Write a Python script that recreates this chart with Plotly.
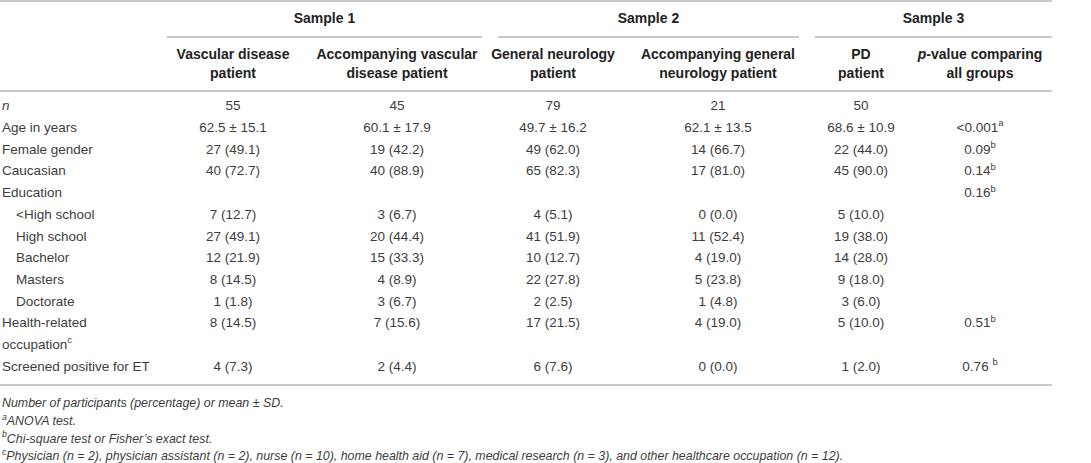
import plotly.graph_objects as go

# ---------------- data ----------------
samples = ["Sample 1", "Sample 2", "Sample 3"]
header_line1 = ["Vascular disease", "Accompanying vascular", "General neurology",
                "Accompanying general", "PD", "<i>p</i>-value comparing"]
header_line2 = ["patient", "disease patient", "patient", "neurology patient",
                "patient", "all groups"]

row_labels = ["<i>n</i>", "Age in years", "Female gender", "Caucasian", "Education",
              "&lt;High school", "High school", "Bachelor", "Masters", "Doctorate",
              "Health-related", "occupation<sup>c</sup>", "Screened positive for ET"]

vascular = ["55", "62.5 ± 15.1", "27 (49.1)", "40 (72.7)", "", "7 (12.7)", "27 (49.1)",
            "12 (21.9)", "8 (14.5)", "1 (1.8)", "8 (14.5)", "", "4 (7.3)"]
acc_vascular = ["45", "60.1 ± 17.9", "19 (42.2)", "40 (88.9)", "", "3 (6.7)", "20 (44.4)",
                "15 (33.3)", "4 (8.9)", "3 (6.7)", "7 (15.6)", "", "2 (4.4)"]
gen_neuro = ["79", "49.7 ± 16.2", "49 (62.0)", "65 (82.3)", "", "4 (5.1)", "41 (51.9)",
             "10 (12.7)", "22 (27.8)", "2 (2.5)", "17 (21.5)", "", "6 (7.6)"]
acc_gen_neuro = ["21", "62.1 ± 13.5", "14 (66.7)", "17 (81.0)", "", "0 (0.0)", "11 (52.4)",
                 "4 (19.0)", "5 (23.8)", "1 (4.8)", "4 (19.0)", "", "0 (0.0)"]
pd_patient = ["50", "68.6 ± 10.9", "22 (44.0)", "45 (90.0)", "", "5 (10.0)", "19 (38.0)",
              "14 (28.0)", "9 (18.0)", "3 (6.0)", "5 (10.0)", "", "1 (2.0)"]
p_values = ["", "&lt;0.001<sup>a</sup>", "0.09<sup>b</sup>", "0.14<sup>b</sup>",
            "0.16<sup>b</sup>", "", "", "", "", "", "0.51<sup>b</sup>", "",
            "0.76 <sup>b</sup>"]

footnotes = ["Number of participants (percentage) or mean ± SD.",
             "<sup>a</sup>ANOVA test.",
             "<sup>b</sup>Chi-square test or Fisher’s exact test.",
             "<sup>c</sup>Physician (n = 2), physician assistant (n = 2), nurse (n = 10), "
             "home health aid (n = 7), medical research (n = 3), and other healthcare occupation (n = 12)."]

# ---------------- layout / style ----------------
W, H = 1091, 463
FONT = "Liberation Sans"
TXT = "#3d3d3d"
HDR = "#222222"
RULE = "#b4b4b4"

col_x = [233, 397, 553, 718, 861, 980]
sample_spans = [(167, 482), (498, 799), (815, 1052)]
sample_x = [(a + b) / 2 for a, b in sample_spans]
indent = [0, 0, 0, 0, 0, 1, 1, 1, 1, 1, 0, 0, 0]
label_x0, indent_dx = 2, 14
row_y0, row_dy = 107, 21.7
row_y = [row_y0 + i * row_dy for i in range(len(row_labels))]
foot_y0, foot_dy = 404, 17.8
foot_y = [foot_y0 + i * foot_dy for i in range(len(footnotes))]
table_x0, table_x1 = 0, 1052
y_top, y_sample_rule, y_head1, y_head2, y_head_rule, y_bottom = 1, 37, 55, 74, 91, 385
y_sample = 19

body_size, head_size, foot_size = 13.5, 14, 12.4

fig = go.Figure()

def add_text(xs, ys, texts, pos, size, color):
    keep = [i for i, t in enumerate(texts) if t]
    fig.add_trace(go.Scatter(
        x=[xs[i] for i in keep], y=[ys[i] for i in keep],
        text=[texts[i] for i in keep], mode="text", textposition=pos,
        textfont=dict(family=FONT, size=size, color=color),
        hoverinfo="skip", showlegend=False, cliponaxis=False))

# sample headers
add_text(sample_x, [y_sample] * len(samples), [f"<b>{s}</b>" for s in samples],
         "middle center", head_size, HDR)
# column headers
add_text(col_x, [y_head1] * len(col_x), [f"<b>{s}</b>" for s in header_line1],
         "middle center", head_size, HDR)
add_text(col_x, [y_head2] * len(col_x), [f"<b>{s}</b>" for s in header_line2],
         "middle center", head_size, HDR)

# row labels
add_text([label_x0 + indent_dx * k for k in indent], row_y, row_labels,
         "middle right", body_size, TXT)

# data columns
for cx, col in zip(col_x, [vascular, acc_vascular, gen_neuro, acc_gen_neuro,
                            pd_patient, p_values]):
    add_text([cx] * len(col), row_y, col, "middle center", body_size, TXT)

# footnotes
add_text([label_x0] * len(footnotes), foot_y, [f"<i>{t}</i>" for t in footnotes],
         "middle right", foot_size, TXT)

shapes = []
for y in (y_top, y_head_rule, y_bottom):
    shapes.append(dict(type="line", xref="x", yref="y", x0=table_x0, x1=table_x1,
                       y0=y, y1=y, line=dict(color=RULE, width=1.3)))
for a, b in sample_spans:
    shapes.append(dict(type="line", xref="x", yref="y", x0=a, x1=b,
                       y0=y_sample_rule, y1=y_sample_rule,
                       line=dict(color=RULE, width=1.3)))

fig.update_layout(
    width=W, height=H, autosize=False,
    margin=dict(l=0, r=0, t=0, b=0, pad=0),
    paper_bgcolor="white", plot_bgcolor="white",
    xaxis=dict(range=[0, W], visible=False, fixedrange=True),
    yaxis=dict(range=[H, 0], visible=False, fixedrange=True),
    shapes=shapes, hovermode=False,
)

fig.write_html("out.html", config={"displayModeBar": False},
               post_script="document.body.style.margin='0';")
